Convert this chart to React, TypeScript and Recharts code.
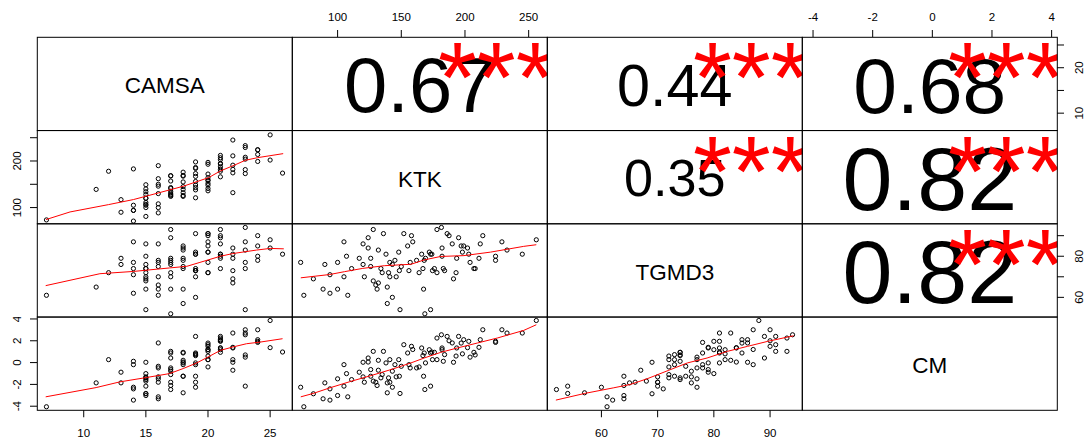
import React from "react";
import { ScatterChart, Scatter, XAxis, YAxis } from "recharts";

// pairs plot of CAMSA / KTK / TGMD3 / CM with loess smoothers and correlations

const FONT = "'Liberation Sans', Arial, sans-serif";

const varNames = ["CAMSA", "KTK", "TGMD3", "CM"];

// one entry per child
const camsa = [
  14, 7, 15, 16, 13, 14, 14, 16, 15, 14, 15, 15, 16, 15, 13, 15, 15, 19, 17, 18,
  17, 18, 17, 15, 16, 17, 18, 22, 15, 17, 20, 19, 11, 18, 15, 17, 20, 19, 17, 18,
  16, 20, 19, 15, 16, 20, 18, 19, 17, 20, 20, 16, 20, 21, 19, 18, 17, 17, 18, 20,
  23, 19, 22, 18, 21, 12, 23, 22, 21, 14, 19, 19, 21, 16, 22, 20, 21, 21, 20, 19,
  24, 21, 23, 21, 23, 22, 21, 24, 24, 24, 23, 23, 22, 25, 26, 25,
];
const ktk = [
  71, 73.5, 81, 88.6, 90, 94, 94, 100, 100, 105, 105, 107, 108, 111, 117, 120, 120, 121, 124, 124,
  126, 126, 128, 128, 130, 131, 132, 132, 134, 135, 136, 138, 139, 139, 140, 141, 141, 143, 143, 145,
  146, 148, 148.5, 149, 150, 152, 155, 156, 157, 158, 159, 162, 164, 166, 167, 167.5, 168, 168.5, 169, 172,
  173, 173, 174.5, 176, 178, 178, 181.5, 182, 182, 183, 184, 186, 187.5, 190, 191, 193, 193.5, 195, 197, 198,
  199, 203, 204, 207, 208, 211, 212, 214, 224, 224, 229, 233, 245, 256, 174, 202,
];
const tgmd3 = [
  77, 61, 69, 64, 76, 71, 62, 77, 64, 87, 70, 80, 61, 74, 79, 86, 76, 70, 89, 84,
  79, 75, 93, 68, 66, 64, 83, 67, 74, 72, 91, 81, 65, 57, 72, 70, 77, 60, 76, 78,
  70, 82, 73, 54, 75, 91, 85, 73, 77, 90, 87, 78, 72, 81, 74, 64, 78, 52, 79, 82,
  54, 81, 73, 74, 93, 72, 94, 84, 80, 74, 73, 91, 90, 86, 69, 72, 79, 89, 85, 82,
  85, 81, 77, 74, 74, 79, 86, 90, 80, 78, 87, 83, 81, 88, 81, 84,
];
const cm = [
  -2.26, -4.05, -2.86, -3.32, -1.86, -2.41, -3.44, -1.49, -3.02, -0.19, -2.16, -1.01, -3.14, -1.56, -0.88, 0.03, -1.31, -1.8, 0.42, 0.05,
  -0.64, -1.25, 1.03, -1.7, -1.8, -2.1, 0.21, -0.7, -1.4, -1.1, 1.03, -0.03, -1.86, -2.77, -1.4, -1.8, 0.27, -2.26, -0.79, -0.19,
  -1.31, 0.27, -1.25, -2.83, -0.34, 1.64, 0.88, -0.19, -0.49, 1.49, 1.2, -0.49, -0.4, 1.34, 0.64, -1.25, 0.88, -2.47, -0.03, 1.18,
  -2.16, 0.88, 0.27, 0.94, 2.25, 0.27, 2.55, 1.34, 1.18, 0.12, 0.73, 2.4, 2.0, 1.8, 0.03, 0.6, 1.34, 2.4, 1.79, 0.8,
  2.1, 1.95, 0.5, 0.94, 0.7, 1.4, 2.1, 3.01, 1.95, 1.85, 3.01, 2.71, 2.71, 3.86, 0.97, 1.37,
];
const series = [camsa, ktk, tgmd3, cm];

// panel ranges (data range + 4%, as pairs() does)
const domains: [number, number][] = [[6.24, 26.76], [64.2, 264.4], [50.32, 95.68], [-4.37, 4.18]];
const axisTicks = [[10, 15, 20, 25], [100, 150, 200, 250], [60, 70, 80, 90], [-4, -2, 0, 2, 4]];
const labelsHoriz = [[10, 15, 20, 25], [100, 150, 200, 250], [60, 70, 80, 90], [-4, -2, 0, 2, 4]];
const labelsVert = [[10, 20], [100, 200], [60, 80], [-4, -2, 0, 2, 4]];

// upper panels
const corrRow = [0, 0, 0, 1, 1, 2];
const corrCol = [1, 2, 3, 2, 3, 3];
const corrR = [0.67, 0.44, 0.68, 0.35, 0.82, 0.82];
const corrText = ["0.67", "0.44", "0.68", "0.35", "0.82", "0.82"];
const corrStars = ["***", "***", "***", "***", "***", "***"];

// red smoothers, [x, y]
const smoothCamsaKtk = [
  [6.96, 74.2], [8.9, 90.6], [12, 106.4], [14, 117.2], [16, 131.4], [18, 145.7],
  [20.05, 164.3], [21, 178.6], [22.1, 190.8], [23, 201.5], [24, 207.2], [26.05, 215.8],
];
const smoothCamsaTgmd = [
  [6.94, 65.7], [11.3, 71.5], [14, 72.6], [16.9, 74.3], [18.3, 75.1], [19.35, 77],
  [21, 80], [22, 81.3], [23.9, 83], [25, 83.8], [26.1, 83.6],
];
const smoothCamsaCm = [
  [6.94, -3.14], [11, -2.29], [12.9, -1.77], [15.05, -1.37], [16.9, -1.01], [18, -0.55],
  [19.1, -0.03], [20, 0.51], [21, 1.12], [22, 1.43], [23.1, 1.73], [24.2, 1.88], [26, 2.19],
];
const smoothKtkTgmd = [
  [71.1, 69.5], [93.8, 71.1], [105.5, 72.5], [119.8, 74.1], [136.7, 75.4], [157.6, 76.1],
  [168, 78.2], [181, 79.9], [199.2, 80.3], [220.1, 82], [246.1, 84.8], [256, 85.6],
];
const smoothKtkCm = [
  [71.1, -3.14], [80.8, -2.83], [93.8, -2.32], [110.7, -1.71], [126.3, -1.19], [141.9, -0.64],
  [157.6, -0.03], [168, 0.42], [181, 0.94], [194, 1.34], [209.6, 1.79], [225.3, 2.25], [246.1, 2.95], [256, 3.47],
];
const smoothTgmdCm = [
  [51.9, -3.44], [57, -2.83], [62.1, -2.32], [65.1, -2.01], [68.1, -1.49], [72, -0.7],
  [75.3, -0.03], [78.8, 0.42], [82.4, 1.03], [86, 1.49], [89.6, 1.95], [94.2, 2.46],
];

const LEFT = 37.3;
const TOP = 37.3;
const PW = 255;
const PH = 93.25;
const AX = 30;
const STAR = 100;

const Dot = (p: any) => (
  <circle cx={p.cx} cy={p.cy} r={2.1} fill="none" stroke="#000" strokeWidth={1} />
);
const Nothing = () => <g />;

const makeTick = (side: string, labels: number[]) => (p: any) => {
  const v = p.payload.value;
  if (!labels.includes(v)) return <g />;
  const st = { fontSize: 11.5, fill: "#000", fontFamily: FONT, textAnchor: "middle" as const };
  if (side === "top") return <text x={p.x} y={p.y - 9.5} {...st}>{v}</text>;
  if (side === "bottom") return <text x={p.x} y={p.y + 19.6} {...st}>{v}</text>;
  const tx = side === "left" ? p.x - 9.5 : p.x + 19.1;
  return <text transform={`translate(${tx},${p.y}) rotate(-90)`} {...st}>{v}</text>;
};

function Panel({ row, col, xSide, ySide, points, smooth }: {
  row: number; col: number; xSide?: "top" | "bottom"; ySide?: "left" | "right";
  points: boolean; smooth?: number[][];
}) {
  const xs = series[col];
  const ys = series[row];
  const pts = xs.map((x, i) => ({ x, y: ys[i] }));
  const t = xSide === "top" ? AX : 0;
  const b = xSide === "bottom" ? AX : 0;
  const l = ySide === "left" ? AX : 0;
  const r = ySide === "right" ? AX : 0;
  return (
    <div style={{ position: "absolute", left: LEFT + col * PW - l, top: TOP + row * PH - t }}>
      <ScatterChart width={PW + l + r} height={PH + t + b} margin={{ top: 0, right: 0, bottom: 0, left: 0 }}>
        <XAxis
          type="number" dataKey="x" domain={domains[col]} allowDataOverflow
          ticks={axisTicks[col]} interval={0} hide={!xSide}
          orientation={xSide === "top" ? "top" : "bottom"} height={AX}
          axisLine={false} tickSize={7} tickMargin={0}
          tickLine={{ stroke: "#000", strokeWidth: 1 }}
          tick={makeTick(xSide || "bottom", labelsHoriz[col])}
        />
        <YAxis
          type="number" dataKey="y" domain={domains[row]} allowDataOverflow
          ticks={axisTicks[row]} interval={0} hide={!ySide}
          orientation={ySide === "right" ? "right" : "left"} width={AX}
          axisLine={false} tickSize={7} tickMargin={0}
          tickLine={{ stroke: "#000", strokeWidth: 1 }}
          tick={makeTick(ySide || "left", labelsVert[row])}
        />
        <Scatter data={pts} shape={points ? Dot : Nothing} isAnimationActive={false} />
        {smooth && (
          <Scatter
            data={smooth.map(([x, y]) => ({ x, y }))}
            line={{ stroke: "#ff0000", strokeWidth: 1 }}
            lineType="joint"
            shape={Nothing}
            fill="#ff0000"
            isAnimationActive={false}
          />
        )}
      </ScatterChart>
    </div>
  );
}

export default function App() {
  return (
    <div style={{ position: "absolute", left: 0, top: 0, width: 1085, height: 441, background: "#fff", fontFamily: FONT }}>
      {/* lower panels */}
      <Panel row={1} col={0} ySide="left" points smooth={smoothCamsaKtk} />
      <Panel row={2} col={0} points smooth={smoothCamsaTgmd} />
      <Panel row={3} col={0} xSide="bottom" ySide="left" points smooth={smoothCamsaCm} />
      <Panel row={2} col={1} points smooth={smoothKtkTgmd} />
      <Panel row={3} col={1} points smooth={smoothKtkCm} />
      <Panel row={3} col={2} xSide="bottom" points smooth={smoothTgmdCm} />
      {/* upper panels only carry the outer axes */}
      <Panel row={0} col={1} xSide="top" points={false} />
      <Panel row={0} col={3} xSide="top" ySide="right" points={false} />
      <Panel row={2} col={3} ySide="right" points={false} />

      <svg width={1085} height={441} style={{ position: "absolute", left: 0, top: 0, pointerEvents: "none" }}>
        <defs>
          {corrR.map((_, i) => (
            <clipPath key={i} id={`cp${i}`}>
              <rect x={LEFT + corrCol[i] * PW} y={TOP + corrRow[i] * PH} width={PW} height={PH} />
            </clipPath>
          ))}
        </defs>
        {varNames.map((name, i) => (
          <text key={name} x={LEFT + i * PW + PW / 2} y={TOP + i * PH + PH / 2 + 9.5}
            fontSize={22.5} textAnchor="middle" fontFamily={FONT} fill="#000">
            {name}
          </text>
        ))}
        {corrR.map((r, i) => {
          const x0 = LEFT + corrCol[i] * PW;
          const y0 = TOP + corrRow[i] * PH;
          const fs = 80.2 * (Math.abs(r) + 0.3);
          return (
            <g key={i}>
              <text x={x0 + PW / 2} y={y0 + PH / 2 + 0.36 * fs + 0.5} fontSize={fs}
                textAnchor="middle" fontFamily={FONT} fill="#000">
                {corrText[i]}
              </text>
              <text x={x0 + 0.8 * PW} y={y0 + 0.2 * PH + 0.563 * STAR} fontSize={STAR}
                textAnchor="middle" fontFamily={FONT} fill="#ff0000" clipPath={`url(#cp${i})`}>
                {corrStars[i]}
              </text>
            </g>
          );
        })}
        {[0, 1, 2, 3].map((r) =>
          [0, 1, 2, 3].map((c) => (
            <rect key={`${r}-${c}`} x={LEFT + c * PW} y={TOP + r * PH} width={PW} height={PH}
              fill="none" stroke="#000" strokeWidth={1} />
          ))
        )}
      </svg>
    </div>
  );
}
